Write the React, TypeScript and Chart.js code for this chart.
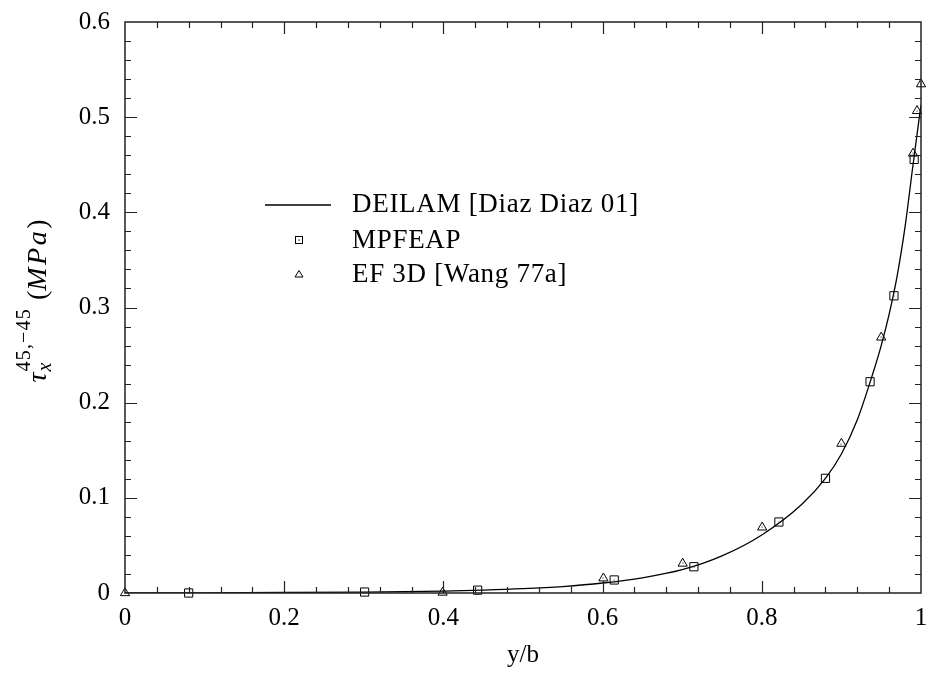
import React, { useEffect, useRef } from 'react';
import { Chart, registerables } from 'chart.js';

Chart.register(...registerables);

// DEILAM curve
const curveX = [0, 0.1, 0.2, 0.3, 0.4, 0.45, 0.5, 0.55, 0.6, 0.65, 0.7, 0.75, 0.8, 0.85, 0.88, 0.9, 0.92, 0.94, 0.95, 0.96, 0.97, 0.98, 0.99, 1.0];
const curveY = [0, 0.0002, 0.0005, 0.001, 0.002, 0.003, 0.0045, 0.0068, 0.0105, 0.016, 0.0245, 0.039, 0.061, 0.093, 0.1205, 0.146, 0.182, 0.232, 0.26, 0.293, 0.333, 0.385, 0.45, 0.513];
// MPFEAP
const mpfeapX = [0.08, 0.301, 0.443, 0.6146, 0.7147, 0.8215, 0.88, 0.936, 0.966, 0.9914];
const mpfeapY = [0, 0.001, 0.003, 0.0137, 0.0276, 0.0746, 0.1205, 0.222, 0.3123, 0.4556];
// EF 3D [Wang 77a]
const wangX = [0, 0.399, 0.601, 0.7006, 0.8005, 0.9, 0.95, 0.99, 0.995, 1.0];
const wangY = [0, 0.0005, 0.0155, 0.031, 0.069, 0.157, 0.2686, 0.4619, 0.5066, 0.5347];

const seriesNames = ['DEILAM [Diaz Diaz 01]', 'MPFEAP', 'EF 3D [Wang 77a]'];
const xTitle = 'y/b';
const xRange = [0, 1];
const yRange = [0, 0.6];
const xMajor = 0.2;
const xMinor = 0.04;
const yMajor = 0.1;
const yMinor = 0.02;

const FONT = "'Liberation Serif', 'DejaVu Serif', serif";
const FS = 25;

const zip = (xs: number[], ys: number[]) => xs.map((x, i) => ({ x, y: ys[i] }));

const framePlugin = {
  id: 'frame',
  afterDatasetsDraw(chart: any) {
    const ctx = chart.ctx;
    const { left, right, top, bottom } = chart.chartArea;
    const xs = chart.scales.x;
    const ys = chart.scales.y;
    ctx.save();
    [1, 2].forEach((di) => {
      const meta = chart.getDatasetMeta(di);
      ctx.fillStyle = '#555';
      meta.data.forEach((pt: any) => {
        ctx.fillRect(Math.round(pt.x) - 0.5, Math.round(pt.y) - 0.5, 1.2, 1.2);
      });
    });
    ctx.strokeStyle = '#222';
    ctx.lineWidth = 1.5;
    ctx.strokeRect(left, top, right - left, bottom - top);
    ctx.lineWidth = 1.2;
    ctx.beginPath();
    const nx = Math.round((xRange[1] - xRange[0]) / xMinor);
    for (let i = 1; i < nx; i++) {
      const v = xRange[0] + i * xMinor;
      const major = Math.abs(v / xMajor - Math.round(v / xMajor)) < 1e-6;
      const len = major ? 12 : 6;
      const px = Math.round(xs.getPixelForValue(v)) + 0.5;
      ctx.moveTo(px, bottom);
      ctx.lineTo(px, bottom - len);
      ctx.moveTo(px, top);
      ctx.lineTo(px, top + len);
    }
    const ny = Math.round((yRange[1] - yRange[0]) / yMinor);
    for (let i = 1; i < ny; i++) {
      const v = yRange[0] + i * yMinor;
      const major = Math.abs(v / yMajor - Math.round(v / yMajor)) < 1e-6;
      const len = major ? 12 : 6;
      const py = Math.round(ys.getPixelForValue(v)) + 0.5;
      ctx.moveTo(left, py);
      ctx.lineTo(left + len, py);
      ctx.moveTo(right, py);
      ctx.lineTo(right - len, py);
    }
    ctx.stroke();
    ctx.restore();
  },
  afterDraw(chart: any) {
    const ctx = chart.ctx;
    ctx.save();
    ctx.fillStyle = '#000';
    ctx.strokeStyle = '#000';
    // Legend
    const lx = 265;
    const tx = 352;
    const rows = [204, 240, 274];
    ctx.font = `27px ${FONT}`;
    (ctx as any).letterSpacing = '0.7px';
    ctx.textBaseline = 'middle';
    ctx.textAlign = 'left';
    ctx.lineWidth = 1.3;
    ctx.beginPath();
    ctx.moveTo(lx, rows[0] + 1);
    ctx.lineTo(331, rows[0] + 1);
    ctx.stroke();
    ctx.lineWidth = 1;
    const mx = 299;
    ctx.strokeRect(mx - 3.5, rows[1] - 3.5, 7, 7);
    ctx.fillRect(mx - 0.5, rows[1] - 0.5, 1.2, 1.2);
    ctx.beginPath();
    ctx.moveTo(mx, rows[2] - 3.5);
    ctx.lineTo(mx + 4, rows[2] + 3);
    ctx.lineTo(mx - 4, rows[2] + 3);
    ctx.closePath();
    ctx.stroke();
    seriesNames.forEach((n, i) => ctx.fillText(n, tx, rows[i] + 1));
    (ctx as any).letterSpacing = '0px';

    // Y axis title: tau_x^{45,-45} (MPa)
    const cx = 46;
    const cy = 301;
    ctx.translate(cx, cy);
    ctx.rotate(-Math.PI / 2);
    ctx.textBaseline = 'alphabetic';
    const mainI = `italic 28px ${FONT}`;
    const mainR = `28px ${FONT}`;
    const smallI = `italic 20px ${FONT}`;
    const smallR = `20px ${FONT}`;
    const w = (t: string, f: string, ls = 0) => { ctx.font = f; (ctx as any).letterSpacing = ls + 'px'; const m = ctx.measureText(t).width; (ctx as any).letterSpacing = '0px'; return m; };
    const wTau = w('τ', mainI);
    const wSub = w('x', smallI);
    const wSup = w('45,−45', smallR, 1.2);
    const wScript = Math.max(wSub, wSup) + 2;
    const wOpen = w(' (', mainR);
    const wM = w('MPa', mainI, 2.5);
    const wClose = w(')', mainR);
    const total = wTau + wScript + wOpen + wM + wClose;
    let x = -total / 2;
    ctx.font = mainI; ctx.fillText('τ', x, 0); x += wTau + 1;
    ctx.font = smallI; ctx.fillText('x', x, 5);
    ctx.font = smallR; (ctx as any).letterSpacing = '1.2px'; ctx.fillText('45,−45', x, -16); (ctx as any).letterSpacing = '0px';
    x += wScript - 1;
    ctx.font = mainR; ctx.fillText(' (', x, 0); x += wOpen;
    ctx.font = mainI; (ctx as any).letterSpacing = '2.5px'; ctx.fillText('MPa', x, 0); (ctx as any).letterSpacing = '0px'; x += wM;
    ctx.font = mainR; ctx.fillText(')', x, 0);
    ctx.restore();
  },
};

const fmt = (v: any) => String(Number(Number(v).toFixed(2)));

const zeroPad = (s: any) => { s.paddingTop = 0; s.paddingBottom = 0; s.paddingLeft = 0; s.paddingRight = 0; };

export default function App() {
  const ref = useRef<HTMLCanvasElement | null>(null);
  useEffect(() => {
    if (!ref.current) return;
    const chart = new Chart(ref.current, {
      type: 'scatter',
      data: {
        datasets: [
          {
            type: 'line',
            label: seriesNames[0],
            data: zip(curveX, curveY),
            borderColor: '#000',
            borderWidth: 1.3,
            pointRadius: 0,
            fill: false,
            cubicInterpolationMode: 'monotone',
            order: 3,
          } as any,
          {
            label: seriesNames[1],
            data: zip(mpfeapX, mpfeapY),
            pointStyle: 'rect',
            pointRadius: 5.8,
            borderColor: '#000',
            borderWidth: 1,
            backgroundColor: 'rgba(0,0,0,0)',
            clip: false,
            order: 2,
          } as any,
          {
            label: seriesNames[2],
            data: zip(wangX, wangY),
            pointStyle: 'triangle',
            pointRadius: 5.3,
            borderColor: '#000',
            borderWidth: 1,
            backgroundColor: 'rgba(0,0,0,0)',
            clip: false,
            order: 1,
          } as any,
        ],
      },
      options: {
        animation: false,
        responsive: false,
        maintainAspectRatio: false,
        layout: { padding: { top: 22, right: 10, left: 0, bottom: 0 } },
        plugins: { legend: { display: false }, tooltip: { enabled: false } },
        scales: {
          x: {
            type: 'linear',
            min: xRange[0],
            max: xRange[1],
            ticks: { stepSize: xMajor, color: '#000', font: { family: FONT, size: FS }, padding: 10, maxRotation: 0, callback: fmt },
            grid: { display: false, drawTicks: false },
            border: { display: false },
            title: { display: true, text: xTitle, color: '#000', font: { family: FONT, size: FS }, padding: { top: 0, bottom: 3 } },
            afterFit: (s: any) => { s.height = 80; zeroPad(s); },
          },
          y: {
            type: 'linear',
            min: yRange[0],
            max: yRange[1],
            ticks: { stepSize: yMajor, color: '#000', font: { family: FONT, size: FS }, padding: 15, callback: fmt },
            grid: { display: false, drawTicks: false },
            border: { display: false },
            afterFit: (s: any) => { s.width = 125; zeroPad(s); },
          },
        },
      } as any,
      plugins: [framePlugin],
    });
    return () => chart.destroy();
  }, []);
  return (
    <div style={{ position: 'fixed', left: 0, top: 0, width: 931, height: 673, background: '#fff' }}>
      <canvas ref={ref} width={931} height={673} style={{ width: 931, height: 673, display: 'block' }} />
    </div>
  );
}
